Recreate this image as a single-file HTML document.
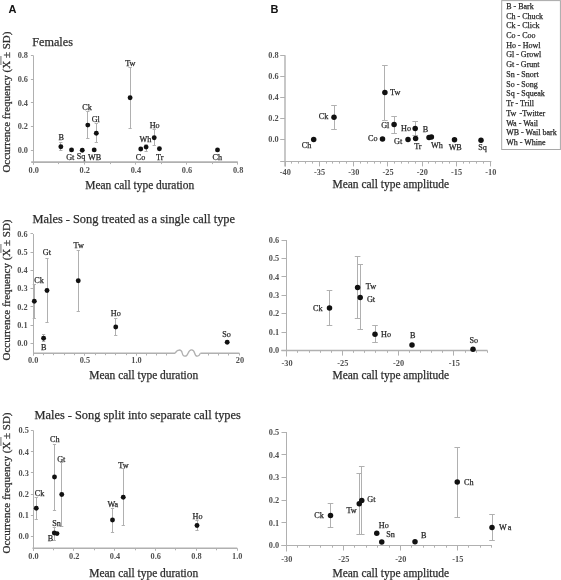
<!DOCTYPE html>
<html><head><meta charset="utf-8"><style>
html,body{margin:0;padding:0;background:#fff;}
svg{display:block;filter:grayscale(1) blur(0.3px);}
text{font-family:"Liberation Serif", serif;}
</style></head><body>
<svg width="561" height="580" viewBox="0 0 561 580">
<rect width="561" height="580" fill="#fff"/>
<text x="8.6" y="12.9" style="font-family:&quot;Liberation Sans&quot;,sans-serif;font-weight:bold" font-size="11" fill="#111">A</text>
<text x="270.6" y="12.9" style="font-family:&quot;Liberation Sans&quot;,sans-serif;font-weight:bold" font-size="11" fill="#111">B</text>
<text x="32.30" y="45.80" font-size="12.2" text-anchor="start" fill="#2e2e2e" stroke="#2e2e2e" stroke-width="0.25" >Females</text>
<text transform="translate(10.30,102.10) rotate(-90)" x="0" y="0" font-size="11" text-anchor="middle" fill="#2e2e2e" stroke="#2e2e2e" stroke-width="0.25">Occurrence frequency (X ± SD)</text>
<line x1="0.90" y1="56.10" x2="0.90" y2="65.10" stroke="#999" stroke-width="1.4"/>
<line x1="33.50" y1="55.60" x2="33.50" y2="164.50" stroke="#b0b0b0" stroke-width="1"/>
<line x1="30.90" y1="150.50" x2="33.40" y2="150.50" stroke="#b0b0b0" stroke-width="1"/>
<text x="28.00" y="153.10" font-size="8.3" text-anchor="end" fill="#505050"   font-weight="bold">0.0</text>
<line x1="30.90" y1="126.50" x2="33.40" y2="126.50" stroke="#b0b0b0" stroke-width="1"/>
<text x="28.00" y="129.43" font-size="8.3" text-anchor="end" fill="#505050"   font-weight="bold">0.2</text>
<line x1="30.90" y1="102.50" x2="33.40" y2="102.50" stroke="#b0b0b0" stroke-width="1"/>
<text x="28.00" y="105.76" font-size="8.3" text-anchor="end" fill="#505050"   font-weight="bold">0.4</text>
<line x1="30.90" y1="79.50" x2="33.40" y2="79.50" stroke="#b0b0b0" stroke-width="1"/>
<text x="28.00" y="82.09" font-size="8.3" text-anchor="end" fill="#505050"   font-weight="bold">0.6</text>
<line x1="30.90" y1="55.50" x2="33.40" y2="55.50" stroke="#b0b0b0" stroke-width="1"/>
<text x="28.00" y="58.42" font-size="8.3" text-anchor="end" fill="#505050"   font-weight="bold">0.8</text>
<line x1="31.20" y1="162.10" x2="237.80" y2="162.10" stroke="#b0b0b0" stroke-width="1.6"/>
<line x1="33.50" y1="162.10" x2="33.50" y2="164.60" stroke="#b0b0b0" stroke-width="1"/>
<text x="33.70" y="173.00" font-size="8.3" text-anchor="middle" fill="#505050"   font-weight="bold">0.0</text>
<line x1="84.50" y1="162.10" x2="84.50" y2="164.60" stroke="#b0b0b0" stroke-width="1"/>
<text x="84.80" y="173.00" font-size="8.3" text-anchor="middle" fill="#505050"   font-weight="bold">0.2</text>
<line x1="135.50" y1="162.10" x2="135.50" y2="164.60" stroke="#b0b0b0" stroke-width="1"/>
<text x="135.90" y="173.00" font-size="8.3" text-anchor="middle" fill="#505050"   font-weight="bold">0.4</text>
<line x1="186.50" y1="162.10" x2="186.50" y2="164.60" stroke="#b0b0b0" stroke-width="1"/>
<text x="187.00" y="173.00" font-size="8.3" text-anchor="middle" fill="#505050"   font-weight="bold">0.6</text>
<line x1="237.50" y1="162.10" x2="237.50" y2="164.60" stroke="#b0b0b0" stroke-width="1"/>
<text x="238.10" y="173.00" font-size="8.3" text-anchor="middle" fill="#505050"   font-weight="bold">0.8</text>
<line x1="58.50" y1="162.10" x2="58.50" y2="164.10" stroke="#b0b0b0" stroke-width="1"/>
<line x1="110.50" y1="162.10" x2="110.50" y2="164.10" stroke="#b0b0b0" stroke-width="1"/>
<line x1="161.50" y1="162.10" x2="161.50" y2="164.10" stroke="#b0b0b0" stroke-width="1"/>
<line x1="212.50" y1="162.10" x2="212.50" y2="164.10" stroke="#b0b0b0" stroke-width="1"/>
<text x="85.30" y="188.70" font-size="11.45" text-anchor="start" fill="#2e2e2e" stroke="#2e2e2e" stroke-width="0.25" >Mean call type duration</text>
<line x1="285.00" y1="55.20" x2="285.00" y2="166.40" stroke="#b0b0b0" stroke-width="1.4"/>
<line x1="280.20" y1="139.50" x2="285.00" y2="139.50" stroke="#b0b0b0" stroke-width="1"/>
<text x="278.70" y="142.20" font-size="8.3" text-anchor="end" fill="#505050"   font-weight="bold">0.0</text>
<line x1="280.20" y1="118.50" x2="285.00" y2="118.50" stroke="#b0b0b0" stroke-width="1"/>
<text x="278.70" y="121.15" font-size="8.3" text-anchor="end" fill="#505050"   font-weight="bold">0.2</text>
<line x1="280.20" y1="97.50" x2="285.00" y2="97.50" stroke="#b0b0b0" stroke-width="1"/>
<text x="278.70" y="100.10" font-size="8.3" text-anchor="end" fill="#505050"   font-weight="bold">0.4</text>
<line x1="280.20" y1="76.50" x2="285.00" y2="76.50" stroke="#b0b0b0" stroke-width="1"/>
<text x="278.70" y="79.05" font-size="8.3" text-anchor="end" fill="#505050"   font-weight="bold">0.6</text>
<line x1="280.20" y1="55.50" x2="285.00" y2="55.50" stroke="#b0b0b0" stroke-width="1"/>
<text x="278.70" y="58.00" font-size="8.3" text-anchor="end" fill="#505050"   font-weight="bold">0.8</text>
<line x1="280.20" y1="161.50" x2="491.40" y2="161.50" stroke="#b0b0b0" stroke-width="1"/>
<line x1="285.50" y1="161.40" x2="285.50" y2="166.40" stroke="#b0b0b0" stroke-width="1"/>
<text x="285.30" y="175.00" font-size="8.3" text-anchor="middle" fill="#505050"   font-weight="bold">-40</text>
<line x1="319.50" y1="161.40" x2="319.50" y2="166.40" stroke="#b0b0b0" stroke-width="1"/>
<text x="319.55" y="175.00" font-size="8.3" text-anchor="middle" fill="#505050"   font-weight="bold">-35</text>
<line x1="353.50" y1="161.40" x2="353.50" y2="166.40" stroke="#b0b0b0" stroke-width="1"/>
<text x="353.80" y="175.00" font-size="8.3" text-anchor="middle" fill="#505050"   font-weight="bold">-30</text>
<line x1="387.50" y1="161.40" x2="387.50" y2="166.40" stroke="#b0b0b0" stroke-width="1"/>
<text x="388.05" y="175.00" font-size="8.3" text-anchor="middle" fill="#505050"   font-weight="bold">-25</text>
<line x1="422.50" y1="161.40" x2="422.50" y2="166.40" stroke="#b0b0b0" stroke-width="1"/>
<text x="422.30" y="175.00" font-size="8.3" text-anchor="middle" fill="#505050"   font-weight="bold">-20</text>
<line x1="456.50" y1="161.40" x2="456.50" y2="166.40" stroke="#b0b0b0" stroke-width="1"/>
<text x="456.55" y="175.00" font-size="8.3" text-anchor="middle" fill="#505050"   font-weight="bold">-15</text>
<line x1="490.50" y1="161.40" x2="490.50" y2="166.40" stroke="#b0b0b0" stroke-width="1"/>
<text x="490.80" y="175.00" font-size="8.3" text-anchor="middle" fill="#505050"   font-weight="bold">-10</text>
<line x1="291.50" y1="161.40" x2="291.50" y2="163.60" stroke="#b0b0b0" stroke-width="1"/>
<line x1="298.50" y1="161.40" x2="298.50" y2="163.60" stroke="#b0b0b0" stroke-width="1"/>
<line x1="305.50" y1="161.40" x2="305.50" y2="163.60" stroke="#b0b0b0" stroke-width="1"/>
<line x1="312.50" y1="161.40" x2="312.50" y2="163.60" stroke="#b0b0b0" stroke-width="1"/>
<line x1="326.50" y1="161.40" x2="326.50" y2="163.60" stroke="#b0b0b0" stroke-width="1"/>
<line x1="332.50" y1="161.40" x2="332.50" y2="163.60" stroke="#b0b0b0" stroke-width="1"/>
<line x1="339.50" y1="161.40" x2="339.50" y2="163.60" stroke="#b0b0b0" stroke-width="1"/>
<line x1="346.50" y1="161.40" x2="346.50" y2="163.60" stroke="#b0b0b0" stroke-width="1"/>
<line x1="360.50" y1="161.40" x2="360.50" y2="163.60" stroke="#b0b0b0" stroke-width="1"/>
<line x1="367.50" y1="161.40" x2="367.50" y2="163.60" stroke="#b0b0b0" stroke-width="1"/>
<line x1="374.50" y1="161.40" x2="374.50" y2="163.60" stroke="#b0b0b0" stroke-width="1"/>
<line x1="380.50" y1="161.40" x2="380.50" y2="163.60" stroke="#b0b0b0" stroke-width="1"/>
<line x1="394.50" y1="161.40" x2="394.50" y2="163.60" stroke="#b0b0b0" stroke-width="1"/>
<line x1="401.50" y1="161.40" x2="401.50" y2="163.60" stroke="#b0b0b0" stroke-width="1"/>
<line x1="408.50" y1="161.40" x2="408.50" y2="163.60" stroke="#b0b0b0" stroke-width="1"/>
<line x1="415.50" y1="161.40" x2="415.50" y2="163.60" stroke="#b0b0b0" stroke-width="1"/>
<line x1="428.50" y1="161.40" x2="428.50" y2="163.60" stroke="#b0b0b0" stroke-width="1"/>
<line x1="435.50" y1="161.40" x2="435.50" y2="163.60" stroke="#b0b0b0" stroke-width="1"/>
<line x1="442.50" y1="161.40" x2="442.50" y2="163.60" stroke="#b0b0b0" stroke-width="1"/>
<line x1="449.50" y1="161.40" x2="449.50" y2="163.60" stroke="#b0b0b0" stroke-width="1"/>
<line x1="463.50" y1="161.40" x2="463.50" y2="163.60" stroke="#b0b0b0" stroke-width="1"/>
<line x1="469.50" y1="161.40" x2="469.50" y2="163.60" stroke="#b0b0b0" stroke-width="1"/>
<line x1="476.50" y1="161.40" x2="476.50" y2="163.60" stroke="#b0b0b0" stroke-width="1"/>
<line x1="483.50" y1="161.40" x2="483.50" y2="163.60" stroke="#b0b0b0" stroke-width="1"/>
<text x="332.50" y="187.50" font-size="11.45" text-anchor="start" fill="#2e2e2e" stroke="#2e2e2e" stroke-width="0.25" >Mean call type amplitude</text>
<rect x="501.7" y="0.6" width="58.7" height="148.9" fill="none" stroke="#a8a8a8" stroke-width="1"/>
<text x="506.20" y="8.80" font-size="8" text-anchor="start" fill="#2a2a2a" stroke="#2a2a2a" stroke-width="0.25" >B - Bark</text>
<text x="506.20" y="18.53" font-size="8" text-anchor="start" fill="#2a2a2a" stroke="#2a2a2a" stroke-width="0.25" >Ch - Chuck</text>
<text x="506.20" y="28.26" font-size="8" text-anchor="start" fill="#2a2a2a" stroke="#2a2a2a" stroke-width="0.25" >Ck - Click</text>
<text x="506.20" y="37.99" font-size="8" text-anchor="start" fill="#2a2a2a" stroke="#2a2a2a" stroke-width="0.25" >Co - Coo</text>
<text x="506.20" y="47.72" font-size="8" text-anchor="start" fill="#2a2a2a" stroke="#2a2a2a" stroke-width="0.25" >Ho - Howl</text>
<text x="506.20" y="57.45" font-size="8" text-anchor="start" fill="#2a2a2a" stroke="#2a2a2a" stroke-width="0.25" >Gl - Growl</text>
<text x="506.20" y="67.18" font-size="8" text-anchor="start" fill="#2a2a2a" stroke="#2a2a2a" stroke-width="0.25" >Gt - Grunt</text>
<text x="506.20" y="76.91" font-size="8" text-anchor="start" fill="#2a2a2a" stroke="#2a2a2a" stroke-width="0.25" >Sn - Snort</text>
<text x="506.20" y="86.64" font-size="8" text-anchor="start" fill="#2a2a2a" stroke="#2a2a2a" stroke-width="0.25" >So - Song</text>
<text x="506.20" y="96.37" font-size="8" text-anchor="start" fill="#2a2a2a" stroke="#2a2a2a" stroke-width="0.25" >Sq - Squeak</text>
<text x="506.20" y="106.10" font-size="8" text-anchor="start" fill="#2a2a2a" stroke="#2a2a2a" stroke-width="0.25" >Tr - Trill</text>
<text x="506.20" y="115.83" font-size="8" text-anchor="start" fill="#2a2a2a" stroke="#2a2a2a" stroke-width="0.25" >Tw <tspan dx="1.3">-Twitter</tspan></text>
<text x="506.20" y="125.56" font-size="8" text-anchor="start" fill="#2a2a2a" stroke="#2a2a2a" stroke-width="0.25" >Wa - Wail</text>
<text x="506.20" y="135.29" font-size="8" text-anchor="start" fill="#2a2a2a" stroke="#2a2a2a" stroke-width="0.25" >WB - Wail bark</text>
<text x="506.20" y="145.02" font-size="8" text-anchor="start" fill="#2a2a2a" stroke="#2a2a2a" stroke-width="0.25" >Wh - Whine</text>
<text x="32.50" y="223.00" font-size="12.37" text-anchor="start" fill="#2e2e2e" stroke="#2e2e2e" stroke-width="0.25" >Males - Song treated as a single call type</text>
<text transform="translate(10.30,290.00) rotate(-90)" x="0" y="0" font-size="11" text-anchor="middle" fill="#2e2e2e" stroke="#2e2e2e" stroke-width="0.25">Occurrence frequency (X ± SD)</text>
<line x1="0.90" y1="244.00" x2="0.90" y2="253.00" stroke="#999" stroke-width="1.4"/>
<line x1="33.50" y1="234.00" x2="33.50" y2="355.30" stroke="#b0b0b0" stroke-width="1"/>
<line x1="30.50" y1="343.50" x2="33.00" y2="343.50" stroke="#b0b0b0" stroke-width="1"/>
<text x="27.60" y="346.20" font-size="8.3" text-anchor="end" fill="#505050"   font-weight="bold">0.0</text>
<line x1="30.50" y1="325.50" x2="33.00" y2="325.50" stroke="#b0b0b0" stroke-width="1"/>
<text x="27.60" y="327.95" font-size="8.3" text-anchor="end" fill="#505050"   font-weight="bold">0.1</text>
<line x1="30.50" y1="306.50" x2="33.00" y2="306.50" stroke="#b0b0b0" stroke-width="1"/>
<text x="27.60" y="309.70" font-size="8.3" text-anchor="end" fill="#505050"   font-weight="bold">0.2</text>
<line x1="30.50" y1="288.50" x2="33.00" y2="288.50" stroke="#b0b0b0" stroke-width="1"/>
<text x="27.60" y="291.45" font-size="8.3" text-anchor="end" fill="#505050"   font-weight="bold">0.3</text>
<line x1="30.50" y1="270.50" x2="33.00" y2="270.50" stroke="#b0b0b0" stroke-width="1"/>
<text x="27.60" y="273.20" font-size="8.3" text-anchor="end" fill="#505050"   font-weight="bold">0.4</text>
<line x1="30.50" y1="252.50" x2="33.00" y2="252.50" stroke="#b0b0b0" stroke-width="1"/>
<text x="27.60" y="254.95" font-size="8.3" text-anchor="end" fill="#505050"   font-weight="bold">0.5</text>
<line x1="30.50" y1="233.50" x2="33.00" y2="233.50" stroke="#b0b0b0" stroke-width="1"/>
<text x="27.60" y="236.70" font-size="8.3" text-anchor="end" fill="#505050"   font-weight="bold">0.6</text>
<line x1="33.00" y1="353.20" x2="175.20" y2="353.20" stroke="#b0b0b0" stroke-width="1.5"/>
<line x1="200.40" y1="353.20" x2="239.40" y2="353.20" stroke="#b0b0b0" stroke-width="1.5"/>
<path d="M175.2 353.2 C177 349, 181.5 349, 182.2 353 S186.5 357.5, 188.2 353 S193.5 349, 194.6 353 S198.5 357.5, 200.4 353.2" fill="none" stroke="#b0b0b0" stroke-width="1.3"/>
<line x1="33.50" y1="353.20" x2="33.50" y2="355.70" stroke="#b0b0b0" stroke-width="1"/>
<line x1="43.50" y1="353.20" x2="43.50" y2="355.20" stroke="#b0b0b0" stroke-width="1"/>
<line x1="53.50" y1="353.20" x2="53.50" y2="355.20" stroke="#b0b0b0" stroke-width="1"/>
<line x1="64.50" y1="353.20" x2="64.50" y2="355.20" stroke="#b0b0b0" stroke-width="1"/>
<line x1="74.50" y1="353.20" x2="74.50" y2="355.20" stroke="#b0b0b0" stroke-width="1"/>
<line x1="84.50" y1="353.20" x2="84.50" y2="355.70" stroke="#b0b0b0" stroke-width="1"/>
<line x1="95.50" y1="353.20" x2="95.50" y2="355.20" stroke="#b0b0b0" stroke-width="1"/>
<line x1="105.50" y1="353.20" x2="105.50" y2="355.20" stroke="#b0b0b0" stroke-width="1"/>
<line x1="115.50" y1="353.20" x2="115.50" y2="355.20" stroke="#b0b0b0" stroke-width="1"/>
<line x1="126.50" y1="353.20" x2="126.50" y2="355.20" stroke="#b0b0b0" stroke-width="1"/>
<line x1="136.50" y1="353.20" x2="136.50" y2="355.70" stroke="#b0b0b0" stroke-width="1"/>
<line x1="146.50" y1="353.20" x2="146.50" y2="355.50" stroke="#b0b0b0" stroke-width="1"/>
<line x1="156.50" y1="353.20" x2="156.50" y2="355.50" stroke="#b0b0b0" stroke-width="1"/>
<line x1="166.50" y1="353.20" x2="166.50" y2="355.50" stroke="#b0b0b0" stroke-width="1"/>
<line x1="208.50" y1="353.20" x2="208.50" y2="355.50" stroke="#b0b0b0" stroke-width="1"/>
<line x1="218.50" y1="353.20" x2="218.50" y2="355.50" stroke="#b0b0b0" stroke-width="1"/>
<line x1="228.50" y1="353.20" x2="228.50" y2="355.50" stroke="#b0b0b0" stroke-width="1"/>
<line x1="239.50" y1="353.20" x2="239.50" y2="355.50" stroke="#b0b0b0" stroke-width="1"/>
<text x="33.10" y="363.20" font-size="8.3" text-anchor="middle" fill="#505050"   font-weight="bold">0.0</text>
<text x="84.90" y="363.20" font-size="8.3" text-anchor="middle" fill="#505050"   font-weight="bold">0.5</text>
<text x="136.50" y="363.20" font-size="8.3" text-anchor="middle" fill="#505050"   font-weight="bold">1.0</text>
<text x="240.00" y="363.20" font-size="8.3" text-anchor="middle" fill="#505050"   font-weight="bold">20</text>
<text x="89.25" y="379.00" font-size="11.45" text-anchor="start" fill="#2e2e2e" stroke="#2e2e2e" stroke-width="0.25" >Mean call type duration</text>
<line x1="286.50" y1="240.00" x2="286.50" y2="356.50" stroke="#b0b0b0" stroke-width="1"/>
<line x1="281.50" y1="350.50" x2="286.50" y2="350.50" stroke="#b0b0b0" stroke-width="1"/>
<text x="279.20" y="353.20" font-size="8.3" text-anchor="end" fill="#505050"   font-weight="bold">0.0</text>
<line x1="281.50" y1="332.50" x2="286.50" y2="332.50" stroke="#b0b0b0" stroke-width="1"/>
<text x="279.20" y="334.80" font-size="8.3" text-anchor="end" fill="#505050"   font-weight="bold">0.1</text>
<line x1="281.50" y1="313.50" x2="286.50" y2="313.50" stroke="#b0b0b0" stroke-width="1"/>
<text x="279.20" y="316.40" font-size="8.3" text-anchor="end" fill="#505050"   font-weight="bold">0.2</text>
<line x1="281.50" y1="295.50" x2="286.50" y2="295.50" stroke="#b0b0b0" stroke-width="1"/>
<text x="279.20" y="298.00" font-size="8.3" text-anchor="end" fill="#505050"   font-weight="bold">0.3</text>
<line x1="281.50" y1="276.50" x2="286.50" y2="276.50" stroke="#b0b0b0" stroke-width="1"/>
<text x="279.20" y="279.60" font-size="8.3" text-anchor="end" fill="#505050"   font-weight="bold">0.4</text>
<line x1="281.50" y1="258.50" x2="286.50" y2="258.50" stroke="#b0b0b0" stroke-width="1"/>
<text x="279.20" y="261.20" font-size="8.3" text-anchor="end" fill="#505050"   font-weight="bold">0.5</text>
<line x1="281.50" y1="240.50" x2="286.50" y2="240.50" stroke="#b0b0b0" stroke-width="1"/>
<text x="279.20" y="242.80" font-size="8.3" text-anchor="end" fill="#505050"   font-weight="bold">0.6</text>
<line x1="281.40" y1="350.60" x2="487.50" y2="350.60" stroke="#b0b0b0" stroke-width="1.5"/>
<line x1="286.50" y1="350.60" x2="286.50" y2="355.60" stroke="#b0b0b0" stroke-width="1"/>
<text x="287.00" y="366.20" font-size="8.3" text-anchor="middle" fill="#505050"   font-weight="bold">-30</text>
<line x1="342.50" y1="350.60" x2="342.50" y2="355.60" stroke="#b0b0b0" stroke-width="1"/>
<text x="342.75" y="366.20" font-size="8.3" text-anchor="middle" fill="#505050"   font-weight="bold">-25</text>
<line x1="398.50" y1="350.60" x2="398.50" y2="355.60" stroke="#b0b0b0" stroke-width="1"/>
<text x="398.50" y="366.20" font-size="8.3" text-anchor="middle" fill="#505050"   font-weight="bold">-20</text>
<line x1="453.50" y1="350.60" x2="453.50" y2="355.60" stroke="#b0b0b0" stroke-width="1"/>
<text x="454.25" y="366.20" font-size="8.3" text-anchor="middle" fill="#505050"   font-weight="bold">-15</text>
<line x1="297.50" y1="350.60" x2="297.50" y2="352.80" stroke="#b0b0b0" stroke-width="1"/>
<line x1="309.50" y1="350.60" x2="309.50" y2="352.80" stroke="#b0b0b0" stroke-width="1"/>
<line x1="320.50" y1="350.60" x2="320.50" y2="352.80" stroke="#b0b0b0" stroke-width="1"/>
<line x1="331.50" y1="350.60" x2="331.50" y2="352.80" stroke="#b0b0b0" stroke-width="1"/>
<line x1="353.50" y1="350.60" x2="353.50" y2="352.80" stroke="#b0b0b0" stroke-width="1"/>
<line x1="364.50" y1="350.60" x2="364.50" y2="352.80" stroke="#b0b0b0" stroke-width="1"/>
<line x1="375.50" y1="350.60" x2="375.50" y2="352.80" stroke="#b0b0b0" stroke-width="1"/>
<line x1="387.50" y1="350.60" x2="387.50" y2="352.80" stroke="#b0b0b0" stroke-width="1"/>
<line x1="409.50" y1="350.60" x2="409.50" y2="352.80" stroke="#b0b0b0" stroke-width="1"/>
<line x1="420.50" y1="350.60" x2="420.50" y2="352.80" stroke="#b0b0b0" stroke-width="1"/>
<line x1="431.50" y1="350.60" x2="431.50" y2="352.80" stroke="#b0b0b0" stroke-width="1"/>
<line x1="442.50" y1="350.60" x2="442.50" y2="352.80" stroke="#b0b0b0" stroke-width="1"/>
<line x1="465.50" y1="350.60" x2="465.50" y2="352.80" stroke="#b0b0b0" stroke-width="1"/>
<line x1="476.50" y1="350.60" x2="476.50" y2="352.80" stroke="#b0b0b0" stroke-width="1"/>
<line x1="487.50" y1="350.60" x2="487.50" y2="352.80" stroke="#b0b0b0" stroke-width="1"/>
<text x="332.50" y="378.80" font-size="11.45" text-anchor="start" fill="#2e2e2e" stroke="#2e2e2e" stroke-width="0.25" >Mean call type amplitude</text>
<text x="34.50" y="418.80" font-size="12.37" text-anchor="start" fill="#2e2e2e" stroke="#2e2e2e" stroke-width="0.25" >Males - Song split into separate call types</text>
<text transform="translate(10.30,483.00) rotate(-90)" x="0" y="0" font-size="11" text-anchor="middle" fill="#2e2e2e" stroke="#2e2e2e" stroke-width="0.25">Occurrence frequency (X ± SD)</text>
<line x1="0.90" y1="437.00" x2="0.90" y2="446.00" stroke="#999" stroke-width="1.4"/>
<line x1="33.50" y1="430.50" x2="33.50" y2="551.00" stroke="#b0b0b0" stroke-width="1"/>
<line x1="30.90" y1="536.50" x2="33.40" y2="536.50" stroke="#b0b0b0" stroke-width="1"/>
<text x="28.80" y="539.20" font-size="8.3" text-anchor="end" fill="#505050"   font-weight="bold">0.0</text>
<line x1="30.90" y1="515.50" x2="33.40" y2="515.50" stroke="#b0b0b0" stroke-width="1"/>
<text x="28.80" y="518.03" font-size="8.3" text-anchor="end" fill="#505050"   font-weight="bold">0.1</text>
<line x1="30.90" y1="494.50" x2="33.40" y2="494.50" stroke="#b0b0b0" stroke-width="1"/>
<text x="28.80" y="496.86" font-size="8.3" text-anchor="end" fill="#505050"   font-weight="bold">0.2</text>
<line x1="30.90" y1="472.50" x2="33.40" y2="472.50" stroke="#b0b0b0" stroke-width="1"/>
<text x="28.80" y="475.69" font-size="8.3" text-anchor="end" fill="#505050"   font-weight="bold">0.3</text>
<line x1="30.90" y1="451.50" x2="33.40" y2="451.50" stroke="#b0b0b0" stroke-width="1"/>
<text x="28.80" y="454.52" font-size="8.3" text-anchor="end" fill="#505050"   font-weight="bold">0.4</text>
<line x1="30.90" y1="430.50" x2="33.40" y2="430.50" stroke="#b0b0b0" stroke-width="1"/>
<text x="28.80" y="433.35" font-size="8.3" text-anchor="end" fill="#505050"   font-weight="bold">0.5</text>
<line x1="32.50" y1="548.30" x2="237.20" y2="548.30" stroke="#b0b0b0" stroke-width="1.6"/>
<line x1="33.50" y1="548.30" x2="33.50" y2="550.80" stroke="#b0b0b0" stroke-width="1"/>
<text x="33.50" y="559.00" font-size="8.3" text-anchor="middle" fill="#505050"   font-weight="bold">0.0</text>
<line x1="73.50" y1="548.30" x2="73.50" y2="550.80" stroke="#b0b0b0" stroke-width="1"/>
<text x="74.26" y="559.00" font-size="8.3" text-anchor="middle" fill="#505050"   font-weight="bold">0.2</text>
<line x1="114.50" y1="548.30" x2="114.50" y2="550.80" stroke="#b0b0b0" stroke-width="1"/>
<text x="115.02" y="559.00" font-size="8.3" text-anchor="middle" fill="#505050"   font-weight="bold">0.4</text>
<line x1="155.50" y1="548.30" x2="155.50" y2="550.80" stroke="#b0b0b0" stroke-width="1"/>
<text x="155.78" y="559.00" font-size="8.3" text-anchor="middle" fill="#505050"   font-weight="bold">0.6</text>
<line x1="196.50" y1="548.30" x2="196.50" y2="550.80" stroke="#b0b0b0" stroke-width="1"/>
<text x="196.54" y="559.00" font-size="8.3" text-anchor="middle" fill="#505050"   font-weight="bold">0.8</text>
<line x1="237.50" y1="548.30" x2="237.50" y2="550.80" stroke="#b0b0b0" stroke-width="1"/>
<text x="237.30" y="559.00" font-size="8.3" text-anchor="middle" fill="#505050"   font-weight="bold">1.0</text>
<line x1="53.50" y1="548.30" x2="53.50" y2="550.30" stroke="#b0b0b0" stroke-width="1"/>
<line x1="94.50" y1="548.30" x2="94.50" y2="550.30" stroke="#b0b0b0" stroke-width="1"/>
<line x1="135.50" y1="548.30" x2="135.50" y2="550.30" stroke="#b0b0b0" stroke-width="1"/>
<line x1="175.50" y1="548.30" x2="175.50" y2="550.30" stroke="#b0b0b0" stroke-width="1"/>
<line x1="216.50" y1="548.30" x2="216.50" y2="550.30" stroke="#b0b0b0" stroke-width="1"/>
<text x="89.25" y="576.70" font-size="11.45" text-anchor="start" fill="#2e2e2e" stroke="#2e2e2e" stroke-width="0.25" >Mean call type duration</text>
<line x1="286.50" y1="432.00" x2="286.50" y2="551.50" stroke="#b0b0b0" stroke-width="1"/>
<line x1="281.50" y1="545.50" x2="286.50" y2="545.50" stroke="#b0b0b0" stroke-width="1"/>
<text x="279.20" y="548.20" font-size="8.3" text-anchor="end" fill="#505050"   font-weight="bold">0.0</text>
<line x1="281.50" y1="522.50" x2="286.50" y2="522.50" stroke="#b0b0b0" stroke-width="1"/>
<text x="279.20" y="525.54" font-size="8.3" text-anchor="end" fill="#505050"   font-weight="bold">0.1</text>
<line x1="281.50" y1="500.50" x2="286.50" y2="500.50" stroke="#b0b0b0" stroke-width="1"/>
<text x="279.20" y="502.88" font-size="8.3" text-anchor="end" fill="#505050"   font-weight="bold">0.2</text>
<line x1="281.50" y1="477.50" x2="286.50" y2="477.50" stroke="#b0b0b0" stroke-width="1"/>
<text x="279.20" y="480.22" font-size="8.3" text-anchor="end" fill="#505050"   font-weight="bold">0.3</text>
<line x1="281.50" y1="454.50" x2="286.50" y2="454.50" stroke="#b0b0b0" stroke-width="1"/>
<text x="279.20" y="457.56" font-size="8.3" text-anchor="end" fill="#505050"   font-weight="bold">0.4</text>
<line x1="281.50" y1="432.50" x2="286.50" y2="432.50" stroke="#b0b0b0" stroke-width="1"/>
<text x="279.20" y="434.90" font-size="8.3" text-anchor="end" fill="#505050"   font-weight="bold">0.5</text>
<line x1="281.40" y1="545.50" x2="492.00" y2="545.50" stroke="#b0b0b0" stroke-width="1"/>
<line x1="286.50" y1="545.50" x2="286.50" y2="550.50" stroke="#b0b0b0" stroke-width="1"/>
<text x="286.90" y="561.80" font-size="8.3" text-anchor="middle" fill="#505050"   font-weight="bold">-30</text>
<line x1="343.50" y1="545.50" x2="343.50" y2="550.50" stroke="#b0b0b0" stroke-width="1"/>
<text x="343.85" y="561.80" font-size="8.3" text-anchor="middle" fill="#505050"   font-weight="bold">-25</text>
<line x1="400.50" y1="545.50" x2="400.50" y2="550.50" stroke="#b0b0b0" stroke-width="1"/>
<text x="400.80" y="561.80" font-size="8.3" text-anchor="middle" fill="#505050"   font-weight="bold">-20</text>
<line x1="457.50" y1="545.50" x2="457.50" y2="550.50" stroke="#b0b0b0" stroke-width="1"/>
<text x="457.75" y="561.80" font-size="8.3" text-anchor="middle" fill="#505050"   font-weight="bold">-15</text>
<line x1="297.50" y1="545.50" x2="297.50" y2="547.70" stroke="#b0b0b0" stroke-width="1"/>
<line x1="309.50" y1="545.50" x2="309.50" y2="547.70" stroke="#b0b0b0" stroke-width="1"/>
<line x1="320.50" y1="545.50" x2="320.50" y2="547.70" stroke="#b0b0b0" stroke-width="1"/>
<line x1="332.50" y1="545.50" x2="332.50" y2="547.70" stroke="#b0b0b0" stroke-width="1"/>
<line x1="354.50" y1="545.50" x2="354.50" y2="547.70" stroke="#b0b0b0" stroke-width="1"/>
<line x1="366.50" y1="545.50" x2="366.50" y2="547.70" stroke="#b0b0b0" stroke-width="1"/>
<line x1="377.50" y1="545.50" x2="377.50" y2="547.70" stroke="#b0b0b0" stroke-width="1"/>
<line x1="389.50" y1="545.50" x2="389.50" y2="547.70" stroke="#b0b0b0" stroke-width="1"/>
<line x1="411.50" y1="545.50" x2="411.50" y2="547.70" stroke="#b0b0b0" stroke-width="1"/>
<line x1="423.50" y1="545.50" x2="423.50" y2="547.70" stroke="#b0b0b0" stroke-width="1"/>
<line x1="434.50" y1="545.50" x2="434.50" y2="547.70" stroke="#b0b0b0" stroke-width="1"/>
<line x1="446.50" y1="545.50" x2="446.50" y2="547.70" stroke="#b0b0b0" stroke-width="1"/>
<line x1="468.50" y1="545.50" x2="468.50" y2="547.70" stroke="#b0b0b0" stroke-width="1"/>
<line x1="480.50" y1="545.50" x2="480.50" y2="547.70" stroke="#b0b0b0" stroke-width="1"/>
<line x1="491.50" y1="545.50" x2="491.50" y2="547.70" stroke="#b0b0b0" stroke-width="1"/>
<text x="332.50" y="576.50" font-size="11.45" text-anchor="start" fill="#2e2e2e" stroke="#2e2e2e" stroke-width="0.25" >Mean call type amplitude</text>
<line x1="60.50" y1="142.80" x2="60.50" y2="150.40" stroke="#b0b0b0" stroke-width="1"/>
<line x1="59.25" y1="142.50" x2="62.45" y2="142.50" stroke="#b0b0b0" stroke-width="1"/>
<line x1="59.25" y1="150.50" x2="62.45" y2="150.50" stroke="#b0b0b0" stroke-width="1"/>
<line x1="87.50" y1="111.60" x2="87.50" y2="138.30" stroke="#b0b0b0" stroke-width="1"/>
<line x1="86.20" y1="111.50" x2="89.40" y2="111.50" stroke="#b0b0b0" stroke-width="1"/>
<line x1="86.20" y1="138.50" x2="89.40" y2="138.50" stroke="#b0b0b0" stroke-width="1"/>
<line x1="96.50" y1="123.70" x2="96.50" y2="142.80" stroke="#b0b0b0" stroke-width="1"/>
<line x1="94.70" y1="123.50" x2="97.90" y2="123.50" stroke="#b0b0b0" stroke-width="1"/>
<line x1="94.70" y1="142.50" x2="97.90" y2="142.50" stroke="#b0b0b0" stroke-width="1"/>
<line x1="130.50" y1="67.10" x2="130.50" y2="128.30" stroke="#b0b0b0" stroke-width="1"/>
<line x1="128.50" y1="67.50" x2="131.70" y2="67.50" stroke="#b0b0b0" stroke-width="1"/>
<line x1="128.50" y1="128.50" x2="131.70" y2="128.50" stroke="#b0b0b0" stroke-width="1"/>
<line x1="154.50" y1="129.60" x2="154.50" y2="145.80" stroke="#b0b0b0" stroke-width="1"/>
<line x1="152.60" y1="129.50" x2="155.80" y2="129.50" stroke="#b0b0b0" stroke-width="1"/>
<line x1="152.60" y1="145.50" x2="155.80" y2="145.50" stroke="#b0b0b0" stroke-width="1"/>
<line x1="146.50" y1="144.10" x2="146.50" y2="151.00" stroke="#b0b0b0" stroke-width="1"/>
<line x1="144.50" y1="144.50" x2="147.70" y2="144.50" stroke="#b0b0b0" stroke-width="1"/>
<line x1="144.50" y1="151.50" x2="147.70" y2="151.50" stroke="#b0b0b0" stroke-width="1"/>
<circle cx="60.85" cy="146.70" r="2.45" fill="#111"/>
<circle cx="71.55" cy="149.90" r="2.45" fill="#111"/>
<circle cx="82.25" cy="150.30" r="2.45" fill="#111"/>
<circle cx="94.20" cy="149.90" r="2.45" fill="#111"/>
<circle cx="87.80" cy="125.10" r="2.45" fill="#111"/>
<circle cx="96.30" cy="133.30" r="2.45" fill="#111"/>
<circle cx="130.10" cy="97.70" r="2.45" fill="#111"/>
<circle cx="154.20" cy="137.70" r="2.45" fill="#111"/>
<circle cx="146.10" cy="147.10" r="2.45" fill="#111"/>
<circle cx="140.75" cy="149.00" r="2.45" fill="#111"/>
<circle cx="159.40" cy="148.80" r="2.45" fill="#111"/>
<circle cx="217.50" cy="149.90" r="2.45" fill="#111"/>
<line x1="334.50" y1="105.00" x2="334.50" y2="129.25" stroke="#b0b0b0" stroke-width="1"/>
<line x1="331.20" y1="105.50" x2="336.80" y2="105.50" stroke="#b0b0b0" stroke-width="1"/>
<line x1="331.20" y1="129.50" x2="336.80" y2="129.50" stroke="#b0b0b0" stroke-width="1"/>
<line x1="384.50" y1="65.00" x2="384.50" y2="120.00" stroke="#b0b0b0" stroke-width="1"/>
<line x1="382.10" y1="65.50" x2="387.70" y2="65.50" stroke="#b0b0b0" stroke-width="1"/>
<line x1="382.10" y1="120.50" x2="387.70" y2="120.50" stroke="#b0b0b0" stroke-width="1"/>
<line x1="394.50" y1="116.40" x2="394.50" y2="133.00" stroke="#b0b0b0" stroke-width="1"/>
<line x1="391.30" y1="116.50" x2="396.90" y2="116.50" stroke="#b0b0b0" stroke-width="1"/>
<line x1="391.30" y1="133.50" x2="396.90" y2="133.50" stroke="#b0b0b0" stroke-width="1"/>
<line x1="415.50" y1="121.30" x2="415.50" y2="135.30" stroke="#b0b0b0" stroke-width="1"/>
<line x1="412.40" y1="121.50" x2="418.00" y2="121.50" stroke="#b0b0b0" stroke-width="1"/>
<line x1="412.40" y1="135.50" x2="418.00" y2="135.50" stroke="#b0b0b0" stroke-width="1"/>
<circle cx="313.70" cy="139.50" r="2.75" fill="#111"/>
<circle cx="334.00" cy="117.25" r="2.75" fill="#111"/>
<circle cx="382.50" cy="139.00" r="2.75" fill="#111"/>
<circle cx="384.90" cy="92.60" r="2.75" fill="#111"/>
<circle cx="394.10" cy="124.50" r="2.75" fill="#111"/>
<circle cx="415.20" cy="128.40" r="2.75" fill="#111"/>
<circle cx="408.00" cy="139.50" r="2.75" fill="#111"/>
<circle cx="415.60" cy="138.50" r="2.75" fill="#111"/>
<circle cx="429.00" cy="137.50" r="2.75" fill="#111"/>
<circle cx="431.40" cy="137.00" r="2.75" fill="#111"/>
<circle cx="454.50" cy="139.75" r="2.75" fill="#111"/>
<circle cx="481.00" cy="140.25" r="2.75" fill="#111"/>
<line x1="34.50" y1="284.50" x2="34.50" y2="318.25" stroke="#b0b0b0" stroke-width="1"/>
<line x1="32.70" y1="284.50" x2="35.90" y2="284.50" stroke="#b0b0b0" stroke-width="1"/>
<line x1="32.70" y1="318.50" x2="35.90" y2="318.50" stroke="#b0b0b0" stroke-width="1"/>
<line x1="47.50" y1="258.00" x2="47.50" y2="322.50" stroke="#b0b0b0" stroke-width="1"/>
<line x1="45.40" y1="258.50" x2="48.60" y2="258.50" stroke="#b0b0b0" stroke-width="1"/>
<line x1="45.40" y1="322.50" x2="48.60" y2="322.50" stroke="#b0b0b0" stroke-width="1"/>
<line x1="78.50" y1="250.00" x2="78.50" y2="311.25" stroke="#b0b0b0" stroke-width="1"/>
<line x1="76.65" y1="250.50" x2="79.85" y2="250.50" stroke="#b0b0b0" stroke-width="1"/>
<line x1="76.65" y1="311.50" x2="79.85" y2="311.50" stroke="#b0b0b0" stroke-width="1"/>
<line x1="43.50" y1="334.50" x2="43.50" y2="341.50" stroke="#b0b0b0" stroke-width="1"/>
<line x1="42.00" y1="334.50" x2="45.20" y2="334.50" stroke="#b0b0b0" stroke-width="1"/>
<line x1="42.00" y1="341.50" x2="45.20" y2="341.50" stroke="#b0b0b0" stroke-width="1"/>
<line x1="115.50" y1="318.75" x2="115.50" y2="335.50" stroke="#b0b0b0" stroke-width="1"/>
<line x1="114.15" y1="318.50" x2="117.35" y2="318.50" stroke="#b0b0b0" stroke-width="1"/>
<line x1="114.15" y1="335.50" x2="117.35" y2="335.50" stroke="#b0b0b0" stroke-width="1"/>
<circle cx="34.30" cy="301.25" r="2.45" fill="#111"/>
<circle cx="47.00" cy="290.50" r="2.45" fill="#111"/>
<circle cx="78.25" cy="280.75" r="2.45" fill="#111"/>
<circle cx="43.60" cy="338.20" r="2.45" fill="#111"/>
<circle cx="115.75" cy="327.00" r="2.45" fill="#111"/>
<circle cx="227.20" cy="342.20" r="2.45" fill="#111"/>
<line x1="329.50" y1="290.75" x2="329.50" y2="325.00" stroke="#b0b0b0" stroke-width="1"/>
<line x1="326.70" y1="290.50" x2="332.30" y2="290.50" stroke="#b0b0b0" stroke-width="1"/>
<line x1="326.70" y1="325.50" x2="332.30" y2="325.50" stroke="#b0b0b0" stroke-width="1"/>
<line x1="357.50" y1="256.75" x2="357.50" y2="318.25" stroke="#b0b0b0" stroke-width="1"/>
<line x1="354.80" y1="256.50" x2="360.40" y2="256.50" stroke="#b0b0b0" stroke-width="1"/>
<line x1="354.80" y1="318.50" x2="360.40" y2="318.50" stroke="#b0b0b0" stroke-width="1"/>
<line x1="360.50" y1="264.50" x2="360.50" y2="329.50" stroke="#b0b0b0" stroke-width="1"/>
<line x1="357.40" y1="264.50" x2="363.00" y2="264.50" stroke="#b0b0b0" stroke-width="1"/>
<line x1="357.40" y1="329.50" x2="363.00" y2="329.50" stroke="#b0b0b0" stroke-width="1"/>
<line x1="375.50" y1="325.75" x2="375.50" y2="342.50" stroke="#b0b0b0" stroke-width="1"/>
<line x1="372.20" y1="325.50" x2="377.80" y2="325.50" stroke="#b0b0b0" stroke-width="1"/>
<line x1="372.20" y1="342.50" x2="377.80" y2="342.50" stroke="#b0b0b0" stroke-width="1"/>
<circle cx="329.50" cy="308.00" r="2.75" fill="#111"/>
<circle cx="357.60" cy="287.50" r="2.75" fill="#111"/>
<circle cx="360.20" cy="297.50" r="2.75" fill="#111"/>
<circle cx="375.00" cy="334.25" r="2.75" fill="#111"/>
<circle cx="412.00" cy="345.00" r="2.75" fill="#111"/>
<circle cx="473.00" cy="349.25" r="2.75" fill="#111"/>
<line x1="36.50" y1="497.50" x2="36.50" y2="519.25" stroke="#b0b0b0" stroke-width="1"/>
<line x1="34.65" y1="497.50" x2="37.85" y2="497.50" stroke="#b0b0b0" stroke-width="1"/>
<line x1="34.65" y1="519.50" x2="37.85" y2="519.50" stroke="#b0b0b0" stroke-width="1"/>
<line x1="54.50" y1="444.50" x2="54.50" y2="510.00" stroke="#b0b0b0" stroke-width="1"/>
<line x1="52.90" y1="444.50" x2="56.10" y2="444.50" stroke="#b0b0b0" stroke-width="1"/>
<line x1="52.90" y1="510.50" x2="56.10" y2="510.50" stroke="#b0b0b0" stroke-width="1"/>
<line x1="61.50" y1="462.50" x2="61.50" y2="526.75" stroke="#b0b0b0" stroke-width="1"/>
<line x1="60.15" y1="462.50" x2="63.35" y2="462.50" stroke="#b0b0b0" stroke-width="1"/>
<line x1="60.15" y1="526.50" x2="63.35" y2="526.50" stroke="#b0b0b0" stroke-width="1"/>
<line x1="123.50" y1="468.00" x2="123.50" y2="525.75" stroke="#b0b0b0" stroke-width="1"/>
<line x1="121.65" y1="468.50" x2="124.85" y2="468.50" stroke="#b0b0b0" stroke-width="1"/>
<line x1="121.65" y1="525.50" x2="124.85" y2="525.50" stroke="#b0b0b0" stroke-width="1"/>
<line x1="54.50" y1="527.50" x2="54.50" y2="540.00" stroke="#b0b0b0" stroke-width="1"/>
<line x1="52.70" y1="527.50" x2="55.90" y2="527.50" stroke="#b0b0b0" stroke-width="1"/>
<line x1="52.70" y1="540.50" x2="55.90" y2="540.50" stroke="#b0b0b0" stroke-width="1"/>
<line x1="112.50" y1="508.00" x2="112.50" y2="532.00" stroke="#b0b0b0" stroke-width="1"/>
<line x1="110.90" y1="508.50" x2="114.10" y2="508.50" stroke="#b0b0b0" stroke-width="1"/>
<line x1="110.90" y1="532.50" x2="114.10" y2="532.50" stroke="#b0b0b0" stroke-width="1"/>
<line x1="197.50" y1="520.00" x2="197.50" y2="530.75" stroke="#b0b0b0" stroke-width="1"/>
<line x1="195.40" y1="520.50" x2="198.60" y2="520.50" stroke="#b0b0b0" stroke-width="1"/>
<line x1="195.40" y1="530.50" x2="198.60" y2="530.50" stroke="#b0b0b0" stroke-width="1"/>
<circle cx="36.25" cy="508.25" r="2.45" fill="#111"/>
<circle cx="54.50" cy="477.00" r="2.45" fill="#111"/>
<circle cx="61.75" cy="494.50" r="2.45" fill="#111"/>
<circle cx="123.25" cy="497.30" r="2.45" fill="#111"/>
<circle cx="54.30" cy="533.00" r="2.45" fill="#111"/>
<circle cx="57.00" cy="533.60" r="2.45" fill="#111"/>
<circle cx="112.50" cy="520.00" r="2.45" fill="#111"/>
<circle cx="197.00" cy="525.50" r="2.45" fill="#111"/>
<line x1="330.50" y1="503.75" x2="330.50" y2="527.00" stroke="#b0b0b0" stroke-width="1"/>
<line x1="327.70" y1="503.50" x2="333.30" y2="503.50" stroke="#b0b0b0" stroke-width="1"/>
<line x1="327.70" y1="527.50" x2="333.30" y2="527.50" stroke="#b0b0b0" stroke-width="1"/>
<line x1="359.50" y1="473.25" x2="359.50" y2="534.50" stroke="#b0b0b0" stroke-width="1"/>
<line x1="356.45" y1="473.50" x2="362.05" y2="473.50" stroke="#b0b0b0" stroke-width="1"/>
<line x1="356.45" y1="534.50" x2="362.05" y2="534.50" stroke="#b0b0b0" stroke-width="1"/>
<line x1="361.50" y1="466.75" x2="361.50" y2="534.50" stroke="#b0b0b0" stroke-width="1"/>
<line x1="358.95" y1="466.50" x2="364.55" y2="466.50" stroke="#b0b0b0" stroke-width="1"/>
<line x1="358.95" y1="534.50" x2="364.55" y2="534.50" stroke="#b0b0b0" stroke-width="1"/>
<line x1="457.50" y1="447.50" x2="457.50" y2="517.50" stroke="#b0b0b0" stroke-width="1"/>
<line x1="454.45" y1="447.50" x2="460.05" y2="447.50" stroke="#b0b0b0" stroke-width="1"/>
<line x1="454.45" y1="517.50" x2="460.05" y2="517.50" stroke="#b0b0b0" stroke-width="1"/>
<line x1="492.50" y1="514.50" x2="492.50" y2="540.75" stroke="#b0b0b0" stroke-width="1"/>
<line x1="489.20" y1="514.50" x2="494.80" y2="514.50" stroke="#b0b0b0" stroke-width="1"/>
<line x1="489.20" y1="540.50" x2="494.80" y2="540.50" stroke="#b0b0b0" stroke-width="1"/>
<circle cx="330.50" cy="515.50" r="2.75" fill="#111"/>
<circle cx="359.25" cy="503.75" r="2.75" fill="#111"/>
<circle cx="361.75" cy="500.50" r="2.75" fill="#111"/>
<circle cx="376.75" cy="533.25" r="2.75" fill="#111"/>
<circle cx="381.75" cy="542.00" r="2.75" fill="#111"/>
<circle cx="457.25" cy="482.00" r="2.75" fill="#111"/>
<circle cx="492.00" cy="527.50" r="2.75" fill="#111"/>
<circle cx="415.00" cy="541.75" r="2.75" fill="#111"/>
<text x="61.35" y="139.80" font-size="8.2" text-anchor="middle" fill="#2a2a2a" stroke="#2a2a2a" stroke-width="0.25" >B</text>
<text x="70.30" y="159.50" font-size="8.2" text-anchor="middle" fill="#2a2a2a" stroke="#2a2a2a" stroke-width="0.25" >Gt</text>
<text x="81.00" y="159.30" font-size="8.2" text-anchor="middle" fill="#2a2a2a" stroke="#2a2a2a" stroke-width="0.25" >Sq</text>
<text x="94.60" y="160.20" font-size="8.2" text-anchor="middle" fill="#2a2a2a" stroke="#2a2a2a" stroke-width="0.25" >WB</text>
<text x="87.05" y="109.60" font-size="8.2" text-anchor="middle" fill="#2a2a2a" stroke="#2a2a2a" stroke-width="0.25" >Ck</text>
<text x="95.80" y="122.05" font-size="8.2" text-anchor="middle" fill="#2a2a2a" stroke="#2a2a2a" stroke-width="0.25" >Gl</text>
<text x="130.35" y="65.60" font-size="8.2" text-anchor="middle" fill="#2a2a2a" stroke="#2a2a2a" stroke-width="0.25" >Tw</text>
<text x="154.65" y="127.70" font-size="8.2" text-anchor="middle" fill="#2a2a2a" stroke="#2a2a2a" stroke-width="0.25" >Ho</text>
<text x="145.35" y="141.60" font-size="8.2" text-anchor="middle" fill="#2a2a2a" stroke="#2a2a2a" stroke-width="0.25" >Wh</text>
<text x="140.65" y="160.20" font-size="8.2" text-anchor="middle" fill="#2a2a2a" stroke="#2a2a2a" stroke-width="0.25" >Co</text>
<text x="159.65" y="160.20" font-size="8.2" text-anchor="middle" fill="#2a2a2a" stroke="#2a2a2a" stroke-width="0.25" >Tr</text>
<text x="217.30" y="160.20" font-size="8.2" text-anchor="middle" fill="#2a2a2a" stroke="#2a2a2a" stroke-width="0.25" >Ch</text>
<text x="323.50" y="118.80" font-size="8.2" text-anchor="middle" fill="#2a2a2a" stroke="#2a2a2a" stroke-width="0.25" >Ck</text>
<text x="306.50" y="148.30" font-size="8.2" text-anchor="middle" fill="#2a2a2a" stroke="#2a2a2a" stroke-width="0.25" >Ch</text>
<text x="372.75" y="140.80" font-size="8.2" text-anchor="middle" fill="#2a2a2a" stroke="#2a2a2a" stroke-width="0.25" >Co</text>
<text x="395.25" y="94.80" font-size="8.2" text-anchor="middle" fill="#2a2a2a" stroke="#2a2a2a" stroke-width="0.25" >Tw</text>
<text x="385.25" y="128.30" font-size="8.2" text-anchor="middle" fill="#2a2a2a" stroke="#2a2a2a" stroke-width="0.25" >Gl</text>
<text x="406.00" y="130.80" font-size="8.2" text-anchor="middle" fill="#2a2a2a" stroke="#2a2a2a" stroke-width="0.25" >Ho</text>
<text x="425.50" y="132.30" font-size="8.2" text-anchor="middle" fill="#2a2a2a" stroke="#2a2a2a" stroke-width="0.25" >B</text>
<text x="398.12" y="143.55" font-size="8.2" text-anchor="middle" fill="#2a2a2a" stroke="#2a2a2a" stroke-width="0.25" >Gt</text>
<text x="417.88" y="149.05" font-size="8.2" text-anchor="middle" fill="#2a2a2a" stroke="#2a2a2a" stroke-width="0.25" >Tr</text>
<text x="436.88" y="148.30" font-size="8.2" text-anchor="middle" fill="#2a2a2a" stroke="#2a2a2a" stroke-width="0.25" >Wh</text>
<text x="455.25" y="149.80" font-size="8.2" text-anchor="middle" fill="#2a2a2a" stroke="#2a2a2a" stroke-width="0.25" >WB</text>
<text x="482.62" y="150.30" font-size="8.2" text-anchor="middle" fill="#2a2a2a" stroke="#2a2a2a" stroke-width="0.25" >Sq</text>
<text x="39.00" y="282.60" font-size="8.2" text-anchor="middle" fill="#2a2a2a" stroke="#2a2a2a" stroke-width="0.25" >Ck</text>
<text x="46.88" y="254.80" font-size="8.2" text-anchor="middle" fill="#2a2a2a" stroke="#2a2a2a" stroke-width="0.25" >Gt</text>
<text x="78.75" y="247.80" font-size="8.2" text-anchor="middle" fill="#2a2a2a" stroke="#2a2a2a" stroke-width="0.25" >Tw</text>
<text x="43.75" y="350.30" font-size="8.2" text-anchor="middle" fill="#2a2a2a" stroke="#2a2a2a" stroke-width="0.25" >B</text>
<text x="115.75" y="315.80" font-size="8.2" text-anchor="middle" fill="#2a2a2a" stroke="#2a2a2a" stroke-width="0.25" >Ho</text>
<text x="226.60" y="337.30" font-size="8.2" text-anchor="middle" fill="#2a2a2a" stroke="#2a2a2a" stroke-width="0.25" >So</text>
<text x="317.75" y="310.80" font-size="8.2" text-anchor="middle" fill="#2a2a2a" stroke="#2a2a2a" stroke-width="0.25" >Ck</text>
<text x="371.00" y="289.05" font-size="8.2" text-anchor="middle" fill="#2a2a2a" stroke="#2a2a2a" stroke-width="0.25" >Tw</text>
<text x="371.00" y="301.55" font-size="8.2" text-anchor="middle" fill="#2a2a2a" stroke="#2a2a2a" stroke-width="0.25" >Gt</text>
<text x="386.00" y="337.30" font-size="8.2" text-anchor="middle" fill="#2a2a2a" stroke="#2a2a2a" stroke-width="0.25" >Ho</text>
<text x="412.75" y="337.80" font-size="8.2" text-anchor="middle" fill="#2a2a2a" stroke="#2a2a2a" stroke-width="0.25" >B</text>
<text x="473.75" y="342.80" font-size="8.2" text-anchor="middle" fill="#2a2a2a" stroke="#2a2a2a" stroke-width="0.25" >So</text>
<text x="39.50" y="495.55" font-size="8.2" text-anchor="middle" fill="#2a2a2a" stroke="#2a2a2a" stroke-width="0.25" >Ck</text>
<text x="54.75" y="442.30" font-size="8.2" text-anchor="middle" fill="#2a2a2a" stroke="#2a2a2a" stroke-width="0.25" >Ch</text>
<text x="61.25" y="462.05" font-size="8.2" text-anchor="middle" fill="#2a2a2a" stroke="#2a2a2a" stroke-width="0.25" >Gt</text>
<text x="123.50" y="467.80" font-size="8.2" text-anchor="middle" fill="#2a2a2a" stroke="#2a2a2a" stroke-width="0.25" >Tw</text>
<text x="56.62" y="525.80" font-size="8.2" text-anchor="middle" fill="#2a2a2a" stroke="#2a2a2a" stroke-width="0.25" >Sn</text>
<text x="50.50" y="540.80" font-size="8.2" text-anchor="middle" fill="#2a2a2a" stroke="#2a2a2a" stroke-width="0.25" >B</text>
<text x="112.75" y="506.55" font-size="8.2" text-anchor="middle" fill="#2a2a2a" stroke="#2a2a2a" stroke-width="0.25" >Wa</text>
<text x="197.50" y="518.55" font-size="8.2" text-anchor="middle" fill="#2a2a2a" stroke="#2a2a2a" stroke-width="0.25" >Ho</text>
<text x="319.12" y="518.30" font-size="8.2" text-anchor="middle" fill="#2a2a2a" stroke="#2a2a2a" stroke-width="0.25" >Ck</text>
<text x="351.62" y="513.30" font-size="8.2" text-anchor="middle" fill="#2a2a2a" stroke="#2a2a2a" stroke-width="0.25" >Tw</text>
<text x="371.38" y="502.30" font-size="8.2" text-anchor="middle" fill="#2a2a2a" stroke="#2a2a2a" stroke-width="0.25" >Gt</text>
<text x="383.75" y="528.30" font-size="8.2" text-anchor="middle" fill="#2a2a2a" stroke="#2a2a2a" stroke-width="0.25" >Ho</text>
<text x="390.62" y="537.30" font-size="8.2" text-anchor="middle" fill="#2a2a2a" stroke="#2a2a2a" stroke-width="0.25" >Sn</text>
<text x="468.75" y="484.80" font-size="8.2" text-anchor="middle" fill="#2a2a2a" stroke="#2a2a2a" stroke-width="0.25" >Ch</text>
<text x="505.25" y="530.30" font-size="8.2" text-anchor="middle" fill="#2a2a2a" stroke="#2a2a2a" stroke-width="0.25" >W<tspan dx="1.6">a</tspan></text>
<text x="423.75" y="538.30" font-size="8.2" text-anchor="middle" fill="#2a2a2a" stroke="#2a2a2a" stroke-width="0.25" >B</text>
</svg>
</body></html>
